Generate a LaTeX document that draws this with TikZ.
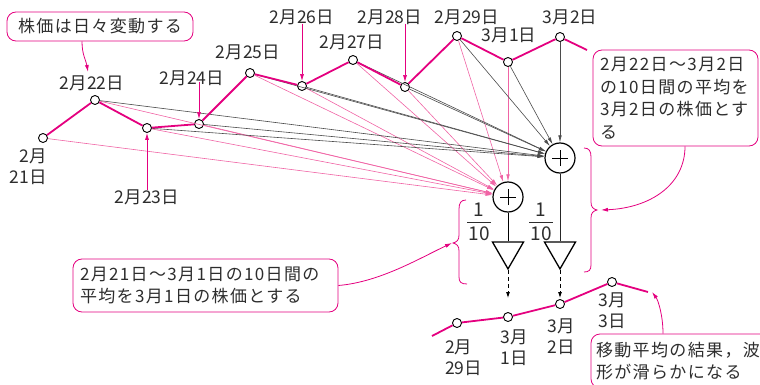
\documentclass[tikz,border=0pt]{standalone}
\usepackage{fontspec}
\setmainfont{Noto Sans CJK JP}
\newfontfamily\callfont[LetterSpace=8]{Noto Sans CJK JP}
\usetikzlibrary{arrows.meta,shapes.geometric}
\definecolor{mag}{RGB}{228,0,127}
\definecolor{pinkl}{RGB}{240,100,165}
\definecolor{grayl}{RGB}{75,75,75}
\definecolor{txt}{RGB}{45,45,45}
\begin{document}
\begin{tikzpicture}[x=1pt,y=-1pt,
  pt/.style={circle,draw=black,fill=white,line width=0.9pt,inner sep=0pt,minimum size=9pt},
  lbl/.style={font=\fontsize{17.5}{21}\selectfont,text=txt,inner sep=0pt},
  one/.style={text height=0.8em,text depth=0.07em},
  series/.style={mag,line width=1.8pt},
  pinkarr/.style={pinkl,line width=0.6pt,-{Latex[length=7pt,width=3.5pt]}},
  grayarr/.style={grayl,line width=0.6pt,-{Latex[length=7pt,width=3.5pt]}},
  lblarr/.style={mag,line width=0.7pt,-{Latex[length=7pt,width=4pt]}},
  plus/.style={circle,draw=black,line width=1.2pt,minimum size=30pt,inner sep=0pt,fill=white,
    path picture={\draw[line width=1pt] ([xshift=-8pt]path picture bounding box.center) -- ([xshift=8pt]path picture bounding box.center);
                  \draw[line width=1pt] ([yshift=-8pt]path picture bounding box.center) -- ([yshift=8pt]path picture bounding box.center);}},
  amp/.style={regular polygon,regular polygon sides=3,shape border rotate=180,draw=black,line width=1.3pt,minimum size=35.8pt,inner sep=0pt,fill=white},
  callout/.style={draw=mag,line width=0.8pt,rounded corners=9pt,text=txt,font=\callfont\fontsize{17}{22.5}\selectfont},
  ptr/.style={mag,line width=0.8pt,-{Latex[length=7pt,width=4pt]}},
  brace/.style={mag,line width=0.8pt},
  frac/.style={font=\fontsize{19}{19}\selectfont,text=txt,inner sep=0pt,anchor=base}
]
\useasboundingbox (0,0) rectangle (760,385);

% top series points
\node[pt] (P1) at (43,138) {};
\node[pt] (P2) at (95,100) {};
\node[pt] (P3) at (147,128) {};
\node[pt] (P4) at (199,124) {};
\node[pt] (P5) at (250,73) {};
\node[pt] (P6) at (302,86) {};
\node[pt] (P7) at (353,60) {};
\node[pt] (P8) at (405,87) {};
\node[pt] (P9) at (457,36) {};
\node[pt] (P10) at (508,62) {};
\node[pt] (P11) at (560,37) {};
\coordinate (P12) at (587,50);

% adders
\node[plus] (L) at (508,197) {};
\node[plus] (U) at (560,158) {};

% thin lines to adders
\foreach \i in {1,...,10} \draw[pinkarr] (P\i) -- (L);
\foreach \i in {2,...,11} \draw[grayarr] (P\i) -- (U);

% series
\draw[series] (P1) -- (P2) -- (P3) -- (P4) -- (P5) -- (P6) -- (P7) -- (P8) -- (P9) -- (P10) -- (P11) -- (P12);

% labels
\node[lbl,align=right,anchor=east] (L21) at (47,166.5) {2月\\21日};
\node[lbl,one] (L22) at (92,86) {2月22日};
\node[lbl,one] (L23) at (147,200) {2月23日};
\node[lbl,one] (L24) at (192,81) {2月24日};
\node[lbl,one] (L25) at (248,55) {2月25日};
\node[lbl,one] (L26) at (302,20) {2月26日};
\node[lbl,one] (L27) at (352,45) {2月27日};
\node[lbl,one] (L28) at (390,20) {2月28日};
\node[lbl,one] (L29) at (467,20) {2月29日};
\node[lbl,one] (L31) at (509,38) {3月1日};
\node[lbl,one] (L32) at (570,20) {3月2日};

% label arrows
\draw[lblarr] ([yshift=5pt]L23.north) -- (P3);
\draw[lblarr] ([yshift=4pt]L24.south -| P4) -- (P4);
\draw[lblarr] ([yshift=1pt]L26.south) -- (P6);
\draw[lblarr] ([yshift=1pt]L28.south -| P8) -- (P8);

% amplifiers
\node[amp] (T1) at (508,251) {};
\node[amp] (T2) at (560,251) {};
\draw[black,line width=1pt] (L) -- (T1);
\draw[black!85,line width=1pt] (U) -- (T2);
\coordinate (D1) at (508,298);
\coordinate (D2) at (560,298);
\draw[black,line width=0.8pt,dash pattern=on 4pt off 3pt,-{Latex[length=6pt,width=4pt]}] (T1.corner 1) -- (D1);
\draw[black,line width=0.8pt,dash pattern=on 4pt off 3pt,-{Latex[length=6pt,width=4pt]}] (T2.corner 1) -- (D2);

% fractions
\node[frac] (F1n) at (479,216.5) {1};
\node[frac] (F1d) at (479,240.5) {10};
\draw[txt,line width=0.7pt] (467,222) -- (491,222);
\node[frac] (F2n) at (541,216.5) {1};
\node[frac] (F2d) at (541,240.5) {10};
\draw[txt,line width=0.7pt] (529,222) -- (553,222);

% braces
\draw[brace] (466,200) .. controls (461,200) and (459,203) .. (459,209) -- (459,235)
  .. controls (459,240) and (457,242) .. (453,243)
  .. controls (457,244) and (459,246) .. (459,251) -- (459,277)
  .. controls (459,282) and (461,284) .. (467,284);
\draw[brace] (584,148) .. controls (589,148) and (591,151) .. (591,157) -- (591,202)
  .. controls (591,207) and (593,209) .. (597,210)
  .. controls (593,211) and (591,213) .. (591,218) -- (591,265)
  .. controls (591,270) and (589,272) .. (584,272);

% bottom series
\coordinate (B0) at (432,336);
\node[pt] (B1) at (457,323) {};
\node[pt] (B2) at (508,317) {};
\node[pt] (B3) at (560,304) {};
\node[pt] (B4) at (612,282) {};
\coordinate (B5) at (648,292);
\draw[series] (B0) -- (B1) -- (B2) -- (B3) -- (B4) -- (B5);

\node[lbl,align=left,anchor=west] (M29) at (445,357.5) {2月\\29日};
\node[lbl,align=center] (M1) at (514,347.5) {3月\\1日};
\node[lbl,align=center] (M2) at (561,336.5) {3月\\2日};
\node[lbl,align=center] (M3) at (612,311) {3月\\3日};

% callouts
\node[callout,minimum width=186pt,minimum height=29pt] (C1) at (100,26.5) {株価は日々変動する};
\node[callout,text width=151pt,inner xsep=7pt,align=left,minimum height=96pt] (C2) at (675.5,98)
  {2月22日〜3月2日\\の10日間の平均を\\3月2日の株価とす\\る};
\node[callout,text width=251pt,inner xsep=7pt,align=left,minimum height=53pt] (C3) at (205.5,285.5)
  {2月21日〜3月1日の10日間の\\平均を3月1日の株価とする};
\node[callout,text width=168pt,inner xsep=5pt,align=left,minimum height=54pt] (C4) at (680,361)
  {移動平均の結果，波\\形が滑らかになる};

% callout pointers
\coordinate (A1) at (88,72);
\coordinate (A2) at (601,210);
\coordinate (A3) at (452,243);
\coordinate (A4) at (652,292);
\draw[ptr] ([xshift=-18pt]C1.south) .. controls (82,55) and (86,60) .. (A1);
\draw[ptr] (C2.south) ++(9.5pt,0) .. controls (685,185) and (650,208) .. (A2);
\draw[ptr] (C3.east) .. controls (380,282) and (420,258) .. (A3);
\draw[ptr] ([xshift=-17pt]C4.north) .. controls (663,315) and (658,300) .. (A4);
\end{tikzpicture}
\end{document}
